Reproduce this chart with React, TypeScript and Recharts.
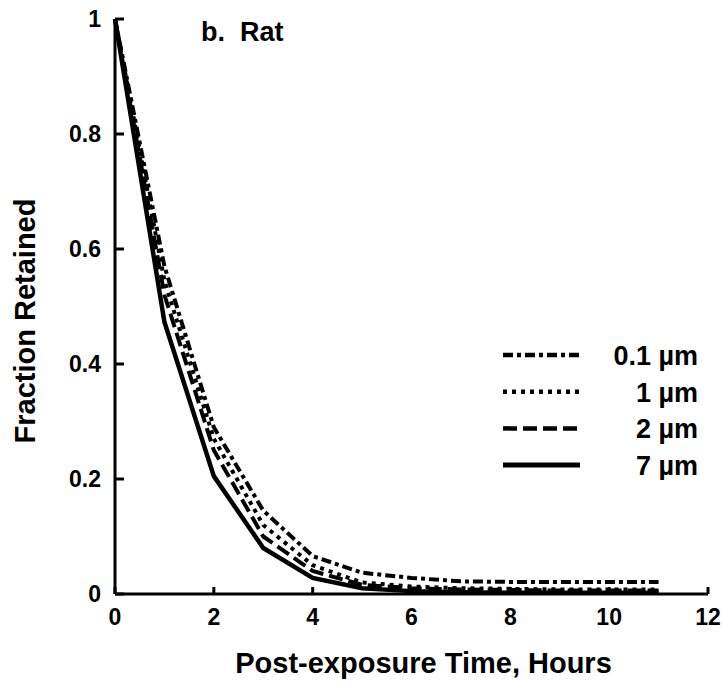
import { Customized, Legend, Line, LineChart, XAxis, YAxis } from 'recharts';

// post-exposure time, hours
const hours = [0, 1, 2, 3, 4, 5, 6, 7, 8, 9, 10, 11];

// fraction retained, by particle size
const size01 = [1, 0.57, 0.29, 0.145, 0.066, 0.037, 0.028, 0.022, 0.021, 0.021, 0.021, 0.021];
const size1 = [1, 0.545, 0.27, 0.12, 0.05, 0.02, 0.013, 0.01, 0.009, 0.008, 0.008, 0.008];
const size2 = [1, 0.52, 0.25, 0.1, 0.04, 0.016, 0.01, 0.008, 0.007, 0.006, 0.006, 0.006];
const size7 = [1, 0.473, 0.205, 0.08, 0.028, 0.01, 0.005, 0.003, 0.002, 0.002, 0.002, 0.002];

const xTicks = [0, 2, 4, 6, 8, 10, 12];
const yTicks = [0, 0.2, 0.4, 0.6, 0.8, 1];

const seriesNames = ['0.1 µm', '1 µm', '2 µm', '7 µm'];

const data = hours.map((h, i) => ({
  t: h,
  s01: size01[i],
  s1: size1[i],
  s2: size2[i],
  s7: size7[i],
}));

const FONT = '"Liberation Sans", Arial, sans-serif';

const styles = [
  { key: 's01', dash: '10 4 4 4', width: 4 },
  { key: 's1', dash: '4 5', width: 4 },
  { key: 's2', dash: '14 6', width: 4 },
  { key: 's7', dash: undefined, width: 4.5 },
];

// ticks point into the plot on both axes
const XTick = (props: any) => {
  const { x, y, payload } = props;
  return (
    <g>
      <line x1={x} x2={x} y1={y} y2={y - 7} stroke="#000" strokeWidth={3} />
      <text x={x} y={y + 31} textAnchor="middle" fontFamily={FONT} fontWeight="bold" fontSize={23} fill="#000">
        {payload.value}
      </text>
    </g>
  );
};

const YTick = (props: any) => {
  const { x, y, payload } = props;
  return (
    <g>
      <line x1={x + 14} x2={x + 23} y1={y} y2={y} stroke="#000" strokeWidth={3} />
      <text x={x} y={y + 8} textAnchor="end" fontFamily={FONT} fontWeight="bold" fontSize={23} fill="#000">
        {payload.value}
      </text>
    </g>
  );
};

const LegendBox = () => (
  <svg width={215} height={145}>
    {seriesNames.map((name, i) => {
      const y = 20 + i * 36.7;
      return (
        <g key={name}>
          <line
            x1={8}
            x2={85}
            y1={y}
            y2={y}
            stroke="#000"
            strokeWidth={styles[i].width + 0.5}
            strokeDasharray={styles[i].dash}
          />
          <text x={203} y={y + 10} textAnchor="end" fontFamily={FONT} fontWeight="bold" fontSize={27} fill="#000">
            {name}
          </text>
        </g>
      );
    })}
  </svg>
);

const App = () => {
  return (
    <div style={{ position: 'absolute', left: 0, top: 0, background: '#fff' }}>
      <LineChart width={722} height={684} data={data} margin={{ top: 19, right: 14, left: 0, bottom: 0 }}>
        <XAxis
          dataKey="t"
          type="number"
          domain={[0, 12]}
          ticks={xTicks}
          height={90}
          tickSize={0}
          tickMargin={0}
          tickLine={false}
          axisLine={{ stroke: '#000', strokeWidth: 3 }}
          tick={<XTick />}
          label={{
            content: (p: any) => (
              <text
                x={p.viewBox.x + p.viewBox.width / 2 + 12}
                y={p.viewBox.y + 79}
                textAnchor="middle"
                fontFamily={FONT}
                fontWeight="bold"
                fontSize={29}
                fill="#000"
              >
                Post-exposure Time, Hours
              </text>
            ),
          }}
        />
        <YAxis
          type="number"
          domain={[0, 1]}
          ticks={yTicks}
          width={115}
          tickSize={0}
          tickMargin={14}
          tickLine={false}
          axisLine={{ stroke: '#000', strokeWidth: 3 }}
          tick={<YTick />}
          label={{
            content: () => (
              <text
                x={35}
                y={321}
                transform="rotate(-90, 35, 321)"
                textAnchor="middle"
                fontFamily={FONT}
                fontWeight="bold"
                fontSize={29}
                fill="#000"
              >
                Fraction Retained
              </text>
            ),
          }}
        />
        {styles.map((s) => (
          <Line
            key={s.key}
            dataKey={s.key}
            type="linear"
            stroke="#000"
            strokeWidth={s.width}
            strokeDasharray={s.dash}
            dot={false}
            isAnimationActive={false}
          />
        ))}
        <Legend
          layout="vertical"
          align="center"
          verticalAlign="middle"
          wrapperStyle={{ left: 495, top: 335, width: 215 }}
          content={<LegendBox />}
        />
        <Customized
          component={() => (
            <text x={201} y={41} fontFamily={FONT} fontWeight="bold" fontSize={27} fill="#000" style={{ whiteSpace: 'pre' }}>
              b.  Rat
            </text>
          )}
        />
      </LineChart>
    </div>
  );
};

export default App;
